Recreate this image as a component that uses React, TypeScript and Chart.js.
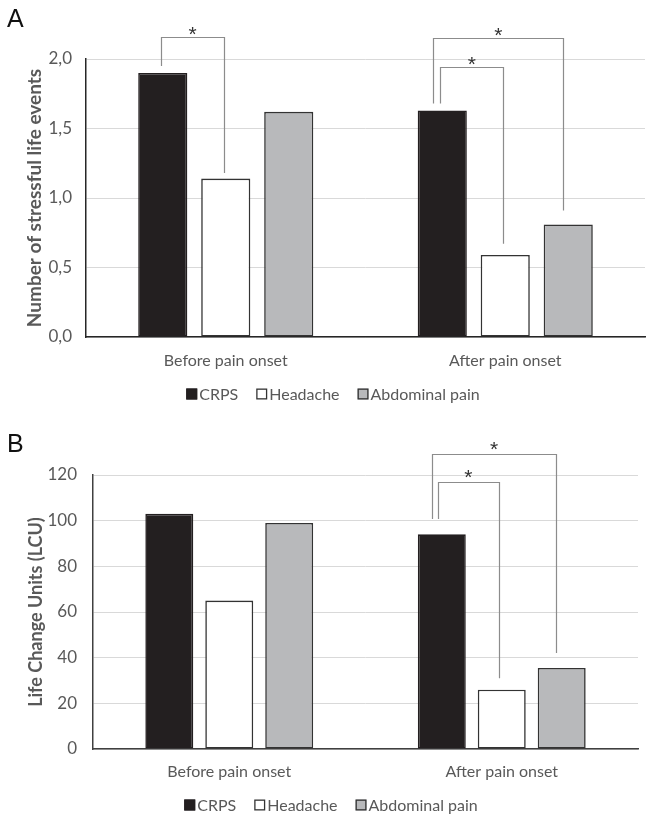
import React, { useEffect, useRef } from 'react';
import { Chart, registerables } from 'chart.js';

Chart.register(...registerables);

// ---------- data ----------
const categories = ['Before pain onset', 'After pain onset'];
const seriesNames = ['CRPS', 'Headache', 'Abdominal pain'];

const eventsCRPS = [1.9, 1.63];
const eventsHeadache = [1.14, 0.59];
const eventsAbdominal = [1.62, 0.81];

const lcuCRPS = [103, 94];
const lcuHeadache = [65, 26];
const lcuAbdominal = [99, 35.5];

const ticksA = ['0,0', '0,5', '1,0', '1,5', '2,0'];
const ticksB = ['0', '20', '40', '60', '80', '100', '120'];

// significance brackets (values in data units of each chart's y axis)
const bracketsA = [
  { cat: 0, from: 0, to: 1, top: 2.16, leftEnd: 1.95, rightEnd: 1.18 },
  { cat: 1, from: 0, to: 2, top: 2.15, leftEnd: 1.68, rightEnd: 0.91 },
  { cat: 1, from: 0, to: 1, top: 1.94, leftEnd: 1.68, rightEnd: 0.67 },
];
const bracketsB = [
  { cat: 1, from: 0, to: 2, top: 129, leftEnd: 100.7, rightEnd: 42 },
  { cat: 1, from: 0, to: 1, top: 117, leftEnd: 100.7, rightEnd: 31 },
];

// ---------- styles ----------
const FONT = 'Lato, "Open Sans", sans-serif';
const TEXT = '#595959';
const GRID = '#d9d9d9';
const FILLS = ['#231f20', '#ffffff', '#b8b9bb'];
const BORDERS = ['#231f20', '#333333', '#333333'];

const bracketPlugin = {
  id: 'sigBrackets',
  afterDatasetsDraw(chart: any, _args: any, opts: any) {
    if (!opts || !opts.brackets) return;
    const ctx = chart.ctx;
    const y = chart.scales.y;
    ctx.save();
    ctx.strokeStyle = opts.color;
    ctx.lineWidth = opts.lineWidth;
    ctx.fillStyle = opts.starColor;
    ctx.font = `${opts.starSize}px "Liberation Sans", Arial, sans-serif`;
    ctx.textAlign = 'center';
    ctx.textBaseline = 'alphabetic';
    opts.brackets.forEach((b: any, i: number) => {
      const e1 = chart.getDatasetMeta(b.from).data[b.cat];
      const e2 = chart.getDatasetMeta(b.to).data[b.cat];
      const off = (opts.offsets && opts.offsets[i]) || [0, 0];
      const x1 = e1.x + off[0] * e1.width;
      const x2 = e2.x + off[1] * e2.width;
      const yt = Math.round(y.getPixelForValue(b.top)) + 0.5;
      const yl = y.getPixelForValue(b.leftEnd);
      const yr = y.getPixelForValue(b.rightEnd);
      ctx.beginPath();
      ctx.moveTo(Math.round(x1) + 0.5, yl);
      ctx.lineTo(Math.round(x1) + 0.5, yt);
      ctx.lineTo(Math.round(x2) + 0.5, yt);
      ctx.lineTo(Math.round(x2) + 0.5, yr);
      ctx.stroke();
      ctx.fillText('*', (x1 + x2) / 2, yt - opts.starGap + 0.58 * opts.starSize);
    });
    ctx.restore();
  },
};

const boxLegendPlugin = {
  id: 'boxLegend',
  afterDraw(chart: any, _args: any, opts: any) {
    if (!opts || !opts.show) return;
    const ctx = chart.ctx;
    ctx.save();
    ctx.font = `${opts.size}px ${FONT}`;
    ctx.textBaseline = 'middle';
    ctx.textAlign = 'left';
    const ds = chart.data.datasets;
    const widths = ds.map((d: any) => opts.box + opts.gap + ctx.measureText(d.label).width);
    const total = widths.reduce((a: number, b: number) => a + b, 0) + opts.spacing * (ds.length - 1);
    let x = opts.centerX - total / 2;
    const yc = opts.y;
    ds.forEach((d: any, i: number) => {
      ctx.fillStyle = d.backgroundColor;
      ctx.fillRect(x, yc - opts.box / 2, opts.box, opts.box);
      ctx.strokeStyle = d.borderColor;
      ctx.lineWidth = 1.3;
      ctx.strokeRect(x + 0.65, yc - opts.box / 2 + 0.65, opts.box - 1.3, opts.box - 1.3);
      ctx.fillStyle = TEXT;
      ctx.fillText(d.label, x + opts.box + opts.gap, yc + 1);
      x += widths[i] + opts.spacing;
    });
    ctx.restore();
  },
};

const panelLetterPlugin = {
  id: 'panelLetter',
  afterDraw(chart: any, _args: any, opts: any) {
    if (!opts || !opts.text) return;
    const ctx = chart.ctx;
    ctx.save();
    ctx.font = `${opts.size}px "Liberation Sans", Arial, sans-serif`;
    ctx.fillStyle = '#111111';
    ctx.textBaseline = 'alphabetic';
    ctx.textAlign = 'left';
    ctx.fillText(opts.text, opts.x, opts.y);
    ctx.restore();
  },
};

function makeConfig(p: any) {
  const values = p.values;
  return {
    type: 'bar',
    data: {
      labels: categories,
      datasets: seriesNames.map((name, i) => ({
        label: name,
        data: values[i],
        backgroundColor: FILLS[i],
        borderColor: BORDERS[i],
        borderWidth: 1.6,
        borderSkipped: false,
        categoryPercentage: p.catPct,
        barPercentage: p.barPct,
      })),
    },
    options: {
      animation: false,
      responsive: false,
      devicePixelRatio: 1,
      layout: { padding: p.padding },
      plugins: {
        legend: { display: false },
        tooltip: { enabled: false },
        sigBrackets: {
          brackets: p.brackets,
          offsets: p.offsets,
          color: '#8c8c8c',
          lineWidth: 1.2,
          starColor: '#333333',
          starSize: p.starSize,
          starGap: p.starGap,
        },
        boxLegend: { show: true, size: p.legendSize, box: p.legendBox, gap: 2, spacing: 18, centerX: p.legendX, y: p.legendY },
        panelLetter: { text: p.letter, size: 25, x: 7, y: p.letterY },
      },
      scales: {
        x: {
          grid: { display: false, drawTicks: false },
          border: { display: true, color: p.axisColor, width: 1.5 },
          ticks: { color: TEXT, font: { family: FONT, size: p.catSize }, padding: p.catPad, maxRotation: 0 },
          afterFit: (s: any) => { s.height = p.xHeight; },
        },
        y: {
          min: 0,
          max: p.max,
          ticks: {
            stepSize: p.step,
            color: TEXT,
            font: { family: FONT, size: p.tickSize },
            padding: p.tickPad,
            callback: (_v: any, idx: number) => p.tickLabels[idx],
          },
          grid: { color: GRID, lineWidth: 1, drawTicks: false },
          border: { display: true, color: p.axisColor, width: 1.5 },
          title: {
            display: true,
            text: p.yTitle,
            color: TEXT,
            font: { family: FONT, size: p.titleSize, weight: 'bold' },
            padding: { top: p.titlePad, bottom: 0 },
          },
          afterFit: (s: any) => { s.width = p.yWidth; },
        },
      },
    },
    plugins: [bracketPlugin, boxLegendPlugin, panelLetterPlugin],
  };
}

const panelA = {
  values: [eventsCRPS, eventsHeadache, eventsAbdominal],
  max: 2, step: 0.5, tickLabels: ticksA,
  yTitle: 'Number of stressful life events',
  brackets: bracketsA,
  offsets: [[-0.03, -0.04], [-0.18, -0.1], [-0.04, -0.04]],
  padding: { top: 59, right: 11, bottom: 42, left: 0 },
  yWidth: 86, xHeight: 36,
  catPct: 0.676, barPct: 0.78,
  catSize: 16, catPad: 14, tickSize: 17, tickPad: 14, titleSize: 19, titlePad: 23,
  legendSize: 16, legendBox: 11, legendX: 333, legendY: 394,
  starSize: 21, starGap: 9,
  axisColor: '#262626',
  letter: 'A', letterY: 27,
};

const panelB = {
  values: [lcuCRPS, lcuHeadache, lcuAbdominal],
  max: 120, step: 20, tickLabels: ticksB,
  yTitle: 'Life Change Units (LCU)',
  brackets: bracketsB,
  offsets: [[-0.2, -0.12], [-0.08, -0.06]],
  padding: { top: 60, right: 18, bottom: 45, left: 0 },
  yWidth: 93, xHeight: 36,
  catPct: 0.66, barPct: 0.8,
  catSize: 16, catPad: 13, tickSize: 17, tickPad: 16, titleSize: 18, titlePad: 25,
  legendSize: 16, legendBox: 11, legendX: 331, legendY: 390,
  starSize: 21, starGap: 11,
  axisColor: '#404040',
  letter: 'B', letterY: 37,
};

function Panel({ p }: { p: any }) {
  const ref = useRef<HTMLCanvasElement>(null);
  useEffect(() => {
    if (!ref.current) return;
    const chart = new Chart(ref.current, makeConfig(p) as any);
    return () => chart.destroy();
  }, [p]);
  return <canvas ref={ref} width={656} height={415} style={{ display: 'block', width: 656, height: 415 }} />;
}

export default function App() {
  return (
    <div style={{ position: 'absolute', left: 0, top: 0, width: 656, height: 830, background: '#ffffff' }}>
      <Panel p={panelA} />
      <Panel p={panelB} />
    </div>
  );
}
